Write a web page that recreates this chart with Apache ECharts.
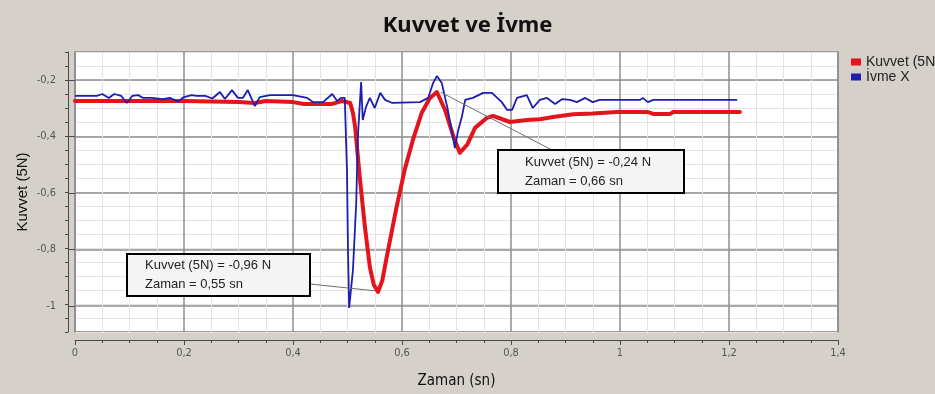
<!DOCTYPE html>
<html><head><meta charset="utf-8">
<script src="https://cdn.jsdelivr.net/npm/echarts@6/dist/echarts.min.js"></script>
<style>html,body{margin:0;padding:0;background:#d5d1ca;}#c{width:935px;height:394px;}</style>
</head><body><div id="c"></div>
<script>
const chartTitle = 'Kuvvet ve İvme';
const xTitle = 'Zaman (sn)';
const yTitle = 'Kuvvet (5N)';
const seriesNames = ['Kuvvet (5N)', 'İvme X'];

const kuvvetTime = [0, 0.1, 0.2, 0.25, 0.30, 0.33, 0.35, 0.40, 0.42, 0.47, 0.49, 0.505, 0.51, 0.514, 0.523, 0.532, 0.541, 0.548, 0.556, 0.564, 0.572, 0.590, 0.605, 0.620, 0.636, 0.651, 0.664, 0.679, 0.694, 0.706, 0.72, 0.734, 0.756, 0.767, 0.798, 0.829, 0.853, 0.877, 0.914, 0.950, 0.994, 1.050, 1.061, 1.092, 1.098, 1.22];
const kuvvetValues = [-0.275, -0.275, -0.275, -0.277, -0.279, -0.282, -0.275, -0.279, -0.286, -0.286, -0.275, -0.282, -0.318, -0.368, -0.557, -0.725, -0.868, -0.930, -0.957, -0.915, -0.832, -0.654, -0.520, -0.414, -0.318, -0.265, -0.243, -0.307, -0.400, -0.460, -0.43, -0.371, -0.335, -0.328, -0.350, -0.343, -0.340, -0.332, -0.322, -0.320, -0.314, -0.314, -0.321, -0.321, -0.314, -0.314];

const ivmeTime = [0, 0.040, 0.050, 0.062, 0.072, 0.085, 0.095, 0.105, 0.116, 0.125, 0.141, 0.161, 0.174, 0.189, 0.200, 0.214, 0.223, 0.239, 0.252, 0.266, 0.275, 0.288, 0.299, 0.308, 0.317, 0.330, 0.339, 0.358, 0.400, 0.426, 0.437, 0.455, 0.472, 0.481, 0.488, 0.495, 0.499, 0.501, 0.503, 0.510, 0.516, 0.519, 0.525, 0.528, 0.534, 0.541, 0.550, 0.560, 0.569, 0.582, 0.633, 0.648, 0.657, 0.664, 0.673, 0.683, 0.692, 0.697, 0.703, 0.710, 0.716, 0.730, 0.749, 0.765, 0.783, 0.793, 0.802, 0.811, 0.829, 0.840, 0.853, 0.866, 0.881, 0.894, 0.908, 0.921, 0.936, 0.950, 0.963, 1.037, 1.042, 1.051, 1.061, 1.215];
const ivmeValues = [-0.257, -0.257, -0.250, -0.264, -0.250, -0.257, -0.282, -0.257, -0.254, -0.264, -0.264, -0.268, -0.264, -0.277, -0.261, -0.254, -0.257, -0.257, -0.266, -0.243, -0.268, -0.236, -0.264, -0.264, -0.236, -0.293, -0.261, -0.254, -0.254, -0.264, -0.279, -0.279, -0.250, -0.275, -0.264, -0.264, -0.521, -0.818, -1.014, -0.879, -0.639, -0.404, -0.207, -0.343, -0.296, -0.264, -0.300, -0.246, -0.271, -0.282, -0.279, -0.264, -0.211, -0.186, -0.211, -0.296, -0.389, -0.443, -0.380, -0.330, -0.271, -0.264, -0.246, -0.246, -0.279, -0.307, -0.307, -0.264, -0.254, -0.300, -0.271, -0.264, -0.286, -0.268, -0.271, -0.279, -0.264, -0.279, -0.271, -0.271, -0.264, -0.279, -0.271, -0.271];

const annotationPoints = [[0.66, -0.24], [0.55, -0.96]];
const annotationTexts = ['Kuvvet (5N) = -0,24 N\nZaman = 0,66 sn', 'Kuvvet (5N) = -0,96 N\nZaman = 0,55 sn'];

const fmt = v => String(Math.round(v * 100) / 100).replace('.', ',');
const zip = (a, b) => a.map((t, i) => [t, b[i]]);

const chart = echarts.init(document.getElementById('c'), null, {renderer: 'canvas'});
const G = {left: 75, right: 97, top: 52, bottom: 60};
const yMin = -1.1, yMax = -0.1;
const plotH = 394 - G.top - G.bottom;
const toY = v => G.top + (yMax - v) / (yMax - yMin) * plotH;
const labelFont = '"Liberation Sans Narrow", "DejaVu Sans Condensed", "Liberation Sans", sans-serif';
const axisColor = '#4a4a4a';

const option = {
  backgroundColor: '#d5d1ca',
  animation: false,
  title: {text: chartTitle, left: 'center', top: 10,
    textStyle: {fontSize: 22, fontWeight: 'bold', fontFamily: '"Noto Sans", sans-serif', color: '#111'}},
  legend: {orient: 'vertical', left: 851, top: 55, padding: 0, itemGap: 1, itemWidth: 10, itemHeight: 7, icon: 'rect',
    data: seriesNames, textStyle: {fontSize: 14, fontFamily: '"Liberation Sans", sans-serif', color: '#222', lineHeight: 14}},
  grid: [
    {left: G.left, right: G.right, top: G.top, bottom: G.bottom, show: true, backgroundColor: '#ffffff', borderColor: '#9c9c9c', borderWidth: 2},
    {left: G.left, right: G.right, top: toY(-0.2), bottom: 394 - toY(-1.0), show: false}
  ],
  xAxis: [
    {type: 'value', gridIndex: 0, min: 0, max: 1.4, interval: 0.2, offset: 8, z: 1,
      axisLine: {show: true, onZero: false, lineStyle: {color: axisColor}},
      axisTick: {show: true, length: 5, lineStyle: {color: axisColor}},
      minorTick: {show: true, splitNumber: 4, length: 3, lineStyle: {color: axisColor}},
      axisLabel: {fontSize: 11, color: '#555', margin: 8, formatter: fmt, fontFamily: labelFont},
      splitLine: {show: true, lineStyle: {color: '#8e8e8e', width: 1.5}},
      minorSplitLine: {show: true, lineStyle: {color: '#e3e3e3', width: 1}},
      name: xTitle, nameLocation: 'middle', nameGap: 34,
      nameTextStyle: {fontSize: 15, color: '#111', fontFamily: labelFont}},
    {type: 'value', gridIndex: 1, min: 0, max: 1.4, show: false}
  ],
  yAxis: [
    {type: 'value', gridIndex: 0, min: yMin, max: yMax, interval: 0.05, offset: 7, z: 1,
      axisLine: {show: true, onZero: false, lineStyle: {color: axisColor}},
      axisTick: {show: true, length: 3, lineStyle: {color: axisColor}},
      axisLabel: {show: false},
      splitLine: {show: true, lineStyle: {color: '#e3e3e3', width: 1}},
      name: yTitle, nameLocation: 'middle', nameGap: 38, nameRotate: 90,
      nameTextStyle: {fontSize: 15, color: '#111', fontFamily: '"Liberation Sans", sans-serif'}},
    {type: 'value', gridIndex: 1, min: -1.0, max: -0.2, interval: 0.2, offset: 7, z: 1,
      axisLine: {show: false},
      axisTick: {show: true, length: 6, lineStyle: {color: axisColor}},
      axisLabel: {fontSize: 11, color: '#555', margin: 12, formatter: fmt, fontFamily: labelFont},
      splitLine: {show: true, lineStyle: {color: '#8e8e8e', width: 1.5}}}
  ],
  series: [
    {name: seriesNames[0], type: 'line', xAxisIndex: 0, yAxisIndex: 0, data: zip(kuvvetTime, kuvvetValues),
      showSymbol: false, symbol: 'none', lineStyle: {color: '#e3141b', width: 4, join: 'round', cap: 'round'}, itemStyle: {color: '#e3141b'}, z: 3},
    {name: seriesNames[1], type: 'line', xAxisIndex: 0, yAxisIndex: 0, data: zip(ivmeTime, ivmeValues),
      showSymbol: false, symbol: 'none', lineStyle: {color: '#1d1db2', width: 1.8}, itemStyle: {color: '#1d1db2'}, z: 4}
  ]
};
chart.setOption(option);

const p1 = chart.convertToPixel({gridIndex: 0}, annotationPoints[0]);
const p2 = chart.convertToPixel({gridIndex: 0}, annotationPoints[1]);
const boxFont = '13px "Liberation Sans", sans-serif';
chart.setOption({
  graphic: [
    {type: 'line', shape: {x1: p1[0] + 6, y1: p1[1] + 1, x2: 552, y2: 150}, style: {stroke: '#6e6e6e', lineWidth: 1}, z: 9},
    {type: 'line', shape: {x1: 310, y1: 284, x2: p2[0], y2: p2[1] - 2}, style: {stroke: '#6e6e6e', lineWidth: 1}, z: 9},
    {type: 'rect', shape: {x: 498, y: 150, width: 186, height: 43}, style: {fill: '#f4f4f4', stroke: '#000', lineWidth: 2}, z: 10},
    {type: 'text', x: 525, y: 152.5, style: {text: annotationTexts[0], font: boxFont, fill: '#222', lineHeight: 19, verticalAlign: 'top'}, z: 11},
    {type: 'rect', shape: {x: 127, y: 254, width: 183, height: 42}, style: {fill: '#f4f4f4', stroke: '#000', lineWidth: 2}, z: 10},
    {type: 'text', x: 145, y: 256, style: {text: annotationTexts[1], font: boxFont, fill: '#222', lineHeight: 19, verticalAlign: 'top'}, z: 11}
  ]
});
</script></body></html>
